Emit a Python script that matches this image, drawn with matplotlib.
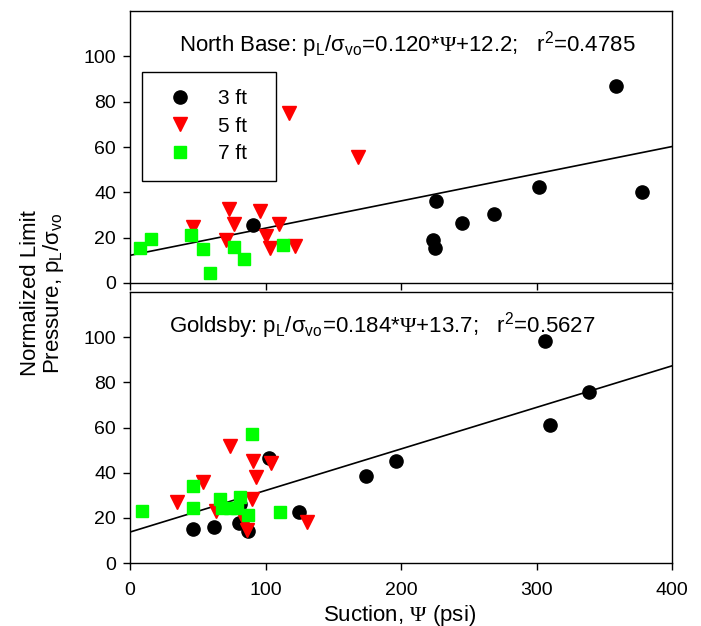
import matplotlib
matplotlib.use("Agg")
import matplotlib.pyplot as plt
import numpy as np

plt.rcParams['font.family'] = ['Liberation Sans', 'DejaVu Sans']
plt.rcParams['mathtext.fontset'] = 'custom'
plt.rcParams['mathtext.rm'] = 'Liberation Sans'
plt.rcParams['mathtext.it'] = 'Liberation Sans:italic'
plt.rcParams['mathtext.sf'] = 'Liberation Serif'

# North Base data (suction psi, normalized limit pressure)
nb_3ft_x = [359, 302, 378, 226, 245, 269, 223.5, 225, 91]
nb_3ft_y = [86.8, 42.5, 40, 36.3, 26.6, 30.6, 18.9, 15.5, 25.6]
nb_5ft_x = [117.6, 168, 72.7, 95.6, 76.6, 110, 100, 71.2, 103, 122, 46.3]
nb_5ft_y = [75.1, 55.7, 32.8, 31.7, 26.2, 25.9, 20.6, 18.9, 15.5, 16.2, 24.7]
nb_7ft_x = [7.4, 15.8, 45, 53.7, 76.9, 84.3, 59.4, 113]
nb_7ft_y = [15.5, 19.2, 21, 14.9, 16.1, 10.7, 4.2, 16.6]

# Goldsby data
gb_3ft_x = [306.6, 339, 310, 196, 174, 102.7, 124.7, 46.3, 62.3, 80.6, 87, 81.3]
gb_3ft_y = [98.5, 75.8, 61, 45.3, 38.5, 46.3, 22.4, 15.2, 16.1, 17.8, 14.3, 26]
gb_5ft_x = [73.6, 90.7, 104, 93, 53.7, 35, 90.4, 63.3, 85.2, 86, 130.5]
gb_5ft_y = [51.8, 45.3, 44.1, 38.2, 35.8, 27.1, 28.2, 23.1, 18.3, 14.5, 18.3]
gb_7ft_x = [90.2, 46.3, 46.3, 8.9, 66.5, 81.3, 67.7, 74, 78.8, 87, 110.4]
gb_7ft_y = [57.1, 34, 24.5, 23.1, 28.2, 29.3, 24.5, 24.5, 24.5, 21.2, 22.4]

# regression lines
nb_slope, nb_int = 0.120, 12.2
gb_slope, gb_int = 0.184, 13.7

fig = plt.figure(figsize=(7.01, 6.26), dpi=100)
ax1 = fig.add_axes([130/701, 1-283/626, 542/701, 272/626])
ax2 = fig.add_axes([130/701, 1-563/626, 542/701, 271/626])

def draw(ax, x3, y3, x5, y5, x7, y7, slope, icpt):
    xl = np.array([0, 400])
    ax.plot(xl, slope*xl + icpt, color='black', lw=1.2, zorder=1)
    ax.plot(x3, y3, 'o', color='black', ms=9.5, ls='none', label='3 ft', zorder=3)
    ax.plot(x5, y5, 'v', color='#ff0000', ms=9.5, ls='none', label='5 ft', zorder=3)
    ax.plot(x7, y7, 's', color='#00ff00', ms=8, ls='none', label='7 ft', zorder=3)
    ax.set_xlim(0, 400)
    ax.set_ylim(0, 120)
    ax.set_xticks([0, 100, 200, 300, 400])
    ax.set_yticks([0, 20, 40, 60, 80, 100])
    ax.tick_params(direction='out', length=5, width=1, labelsize=14, pad=5,
                   top=False, right=False)
    ax.tick_params(axis='x', pad=9)
    for s in ax.spines.values():
        s.set_linewidth(1)

draw(ax1, nb_3ft_x, nb_3ft_y, nb_5ft_x, nb_5ft_y, nb_7ft_x, nb_7ft_y, nb_slope, nb_int)
draw(ax2, gb_3ft_x, gb_3ft_y, gb_5ft_x, gb_5ft_y, gb_7ft_x, gb_7ft_y, gb_slope, gb_int)
ax1.set_xticklabels([])

ax1.text(0.511, 0.875, r'North Base: p$_\mathrm{L}$/σ$_\mathrm{vo}$=0.120*$\mathsf{\Psi}$+12.2;   r$^2$=0.4785',
         transform=ax1.transAxes, ha='center', va='center', fontsize=16)
ax2.text(0.465, 0.875, r'Goldsby: p$_\mathrm{L}$/σ$_\mathrm{vo}$=0.184*$\mathsf{\Psi}$+13.7;   r$^2$=0.5627',
         transform=ax2.transAxes, ha='center', va='center', fontsize=16)

leg = ax1.legend(loc='upper left', bbox_to_anchor=(0.0216, 0.777), bbox_transform=ax1.transAxes,
                 borderaxespad=0, fontsize=15, frameon=True, framealpha=1,
                 fancybox=False, edgecolor='black', numpoints=1, handletextpad=0.8,
                 borderpad=0.85, labelspacing=0.4, handlelength=2.0)
leg.get_frame().set_linewidth(1)
# pad labels so the box is as wide as in the original
for t in leg.get_texts():
    t.set_text(t.get_text() + '  ')

fig.text(43/701, 1-293/626, 'Normalized Limit\nPressure, p$_\\mathrm{L}$/σ$_\\mathrm{vo}$',
         rotation=90, ha='center', va='center', fontsize=16, linespacing=1.0)
fig.text(400/701, 1-615/626, r'Suction, $\mathsf{\Psi}$ (psi)', ha='center', va='center', fontsize=16)

fig.savefig('out.png', dpi=100)
